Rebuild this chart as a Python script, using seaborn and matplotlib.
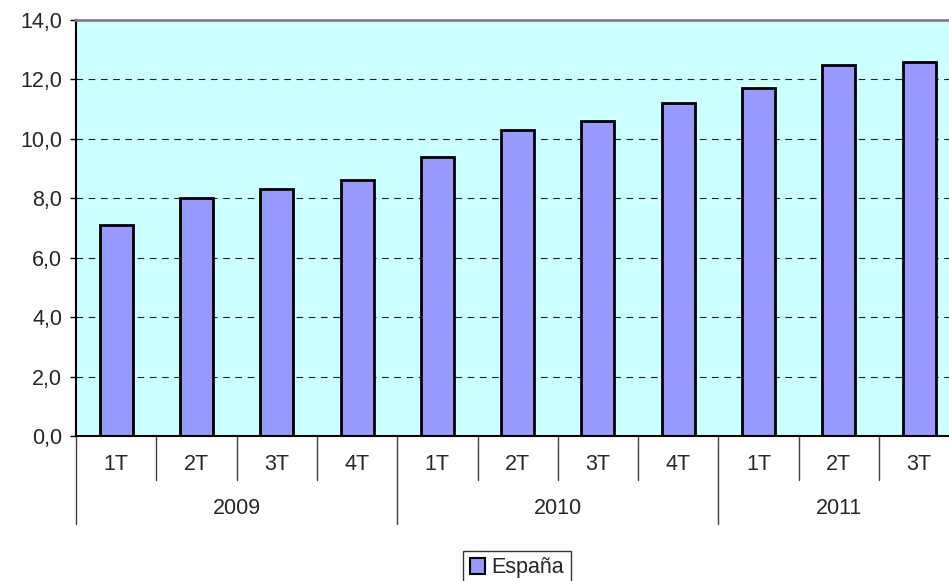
import matplotlib
matplotlib.use("Agg")
import matplotlib.pyplot as plt
import matplotlib.transforms as mtransforms
from matplotlib.patches import Patch
import seaborn as sns
import pandas as pd

quarters = ["1T", "2T", "3T", "4T", "1T", "2T", "3T", "4T", "1T", "2T", "3T"]
years = ["2009", "2010", "2011"]
year_counts = [4, 4, 3]
values = [7.1, 8.0, 8.3, 8.6, 9.4, 10.3, 10.6, 11.2, 11.7, 12.5, 12.6]
series_name = "España"
yticks = [0, 2, 4, 6, 8, 10, 12, 14]

sns.set_style("white")
plt.rcParams['font.family'] = ['Liberation Sans', 'DejaVu Sans']
FS = 15.5

df = pd.DataFrame({"pos": [str(i) for i in range(len(values))], "value": values})

fig = plt.figure(figsize=(9.49, 5.81), dpi=100)
ax = fig.add_axes([76/949, 145/581, 11*80.3/949, 416/581])
ax.set_facecolor("#CCFFFF")

sns.barplot(data=df, x="pos", y="value", color="#9999FF", width=0.41,
            edgecolor="black", linewidth=2, saturation=1, ax=ax, zorder=3)

ax.set_xlim(-0.5, len(values) - 0.5)
ax.set_ylim(0, 14)
ax.set_yticks(yticks)
ax.set_yticklabels([f"{v:.1f}".replace(".", ",") for v in yticks], fontsize=FS)
ax.tick_params(axis="y", length=4, width=1, color="black", pad=6, left=True)
ax.set_xticks([])
ax.set_xlabel("")
ax.set_ylabel("")

for y in yticks[1:-1]:
    ax.axhline(y, color="#202020", linestyle=(0, (6, 5)), linewidth=0.8, zorder=1)

for s in ["right", "bottom"]:
    ax.spines[s].set_visible(False)
ax.spines["top"].set_color("#808080")
ax.spines["top"].set_linewidth(2)
ax.spines["left"].set_color("black")
ax.spines["left"].set_linewidth(1.5)
ax.axhline(0, color="black", linewidth=1.5, zorder=4, clip_on=False)

trans = mtransforms.blended_transform_factory(ax.transData, fig.transFigure)
q_bottom = (581 - 480) / 581
y_bottom = (581 - 524) / 581
top = 145 / 581
year_bounds = set()
acc = 0
for c in year_counts:
    year_bounds.add(acc)
    acc += c
year_bounds.add(acc)
for i in range(len(values) + 1):
    yb = y_bottom if i in year_bounds else q_bottom
    ax.plot([i - 0.5, i - 0.5], [top, yb], color="#404040", linewidth=1,
            transform=trans, clip_on=False)

for i, q in enumerate(quarters):
    ax.text(i, (581 - 465) / 581, q, transform=trans, ha="center", va="center", fontsize=FS)
acc = 0
for yr, c in zip(years, year_counts):
    center = acc + (c - 1) / 2
    ax.text(center, (581 - 509) / 581, yr, transform=trans, ha="center", va="center", fontsize=FS)
    acc += c

handle = Patch(facecolor="#9999FF", edgecolor="black", linewidth=1.5, label=series_name)
leg = fig.legend(handles=[handle], loc="center", bbox_to_anchor=(517/949, (581 - 568) / 581),
                 frameon=True, fontsize=FS, handlelength=0.7, handleheight=0.7,
                 handletextpad=0.3, borderpad=0.3, fancybox=False, borderaxespad=0)
leg.get_frame().set_edgecolor("black")
leg.get_frame().set_linewidth(1)

fig.savefig("out.png", dpi=100)
